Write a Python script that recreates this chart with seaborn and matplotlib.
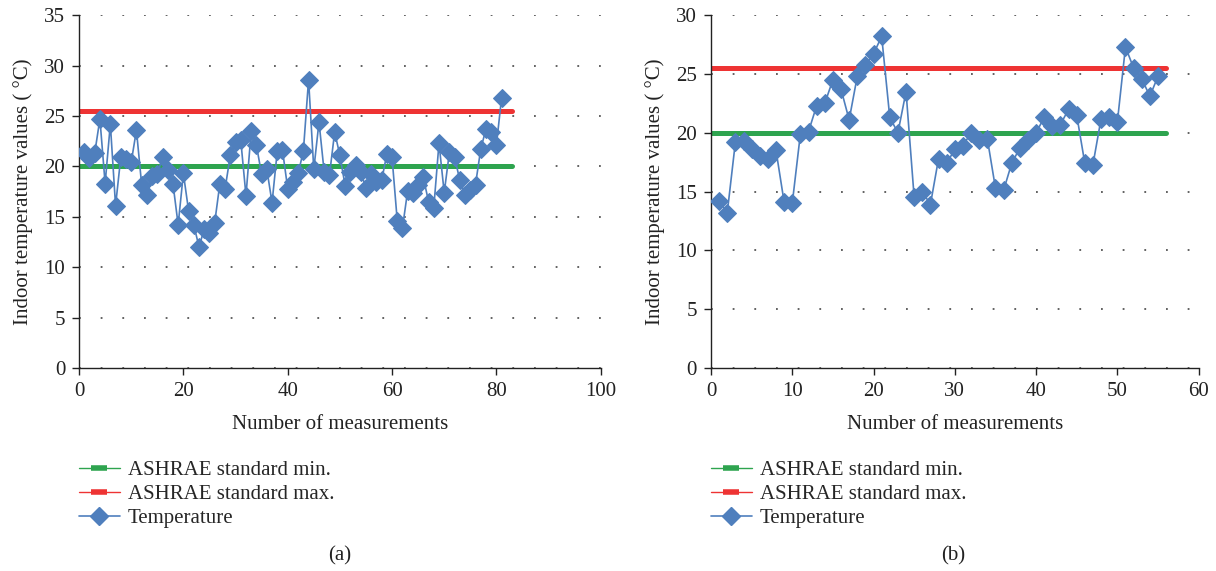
import numpy as np
import pandas as pd
import matplotlib
matplotlib.use("Agg")
import matplotlib.pyplot as plt
from matplotlib.lines import Line2D
import seaborn as sns

# panel (a)
temp_a = [21.4, 20.8, 21.3, 24.7, 18.3, 24.2, 16.1, 20.9, 20.7, 20.4,
          23.6, 18.2, 17.2, 19.0, 19.2, 20.9, 19.6, 18.3, 14.2, 19.3,
          15.6, 14.2, 12.0, 13.8, 13.4, 14.4, 18.3, 17.8, 21.1, 22.4,
          22.6, 17.1, 23.5, 22.1, 19.2, 19.7, 16.4, 21.5, 21.6, 17.8,
          18.4, 19.3, 21.5, 28.6, 19.7, 24.4, 19.4, 19.1, 23.4, 21.1,
          18.1, 19.4, 20.1, 19.4, 17.9, 19.2, 18.4, 18.6, 21.2, 20.9,
          14.6, 13.9, 17.6, 17.4, 18.2, 18.9, 16.5, 15.9, 22.3, 17.4,
          21.4, 20.9, 18.6, 17.2, 17.7, 18.2, 21.7, 23.7, 23.4, 22.1,
          26.8]
# panel (b)
temp_b = [14.2, 13.2, 19.2, 19.3, 18.6, 18.0, 17.8, 18.5, 14.1, 14.0,
          19.9, 20.1, 22.3, 22.5, 24.5, 23.7, 21.1, 24.8, 25.8, 26.7,
          28.2, 21.3, 20.0, 23.5, 14.5, 15.0, 13.9, 17.8, 17.4, 18.6,
          18.9, 20.0, 19.4, 19.5, 15.3, 15.1, 17.4, 18.7, 19.4, 20.0,
          21.3, 20.6, 20.7, 22.0, 21.5, 17.4, 17.3, 21.2, 21.3, 20.9,
          27.3, 25.5, 24.6, 23.1, 24.8]

ashrae_min = 20
ashrae_max = 25.5
line_end = [83, 56]
x_limits = [100, 60]
y_limits = [35, 30]
x_steps = [20, 10]
captions = ["(a)", "(b)"]
legend_labels = ["ASHRAE standard min.", "ASHRAE standard max.", "Temperature"]

blue = "#4f7fbd"
red = "#ee3333"
green = "#2ea44f"
ink = "#222222"
fs = 15

sns.set_theme(style="ticks")
plt.rcParams["font.family"] = ["Liberation Serif", "DejaVu Serif"]
plt.rcParams["font.size"] = fs

fig = plt.figure(figsize=(12.16, 5.71), dpi=100)
ax_a = fig.add_axes([0.065, 0.3555, 0.429, 0.618])
ax_b = fig.add_axes([0.5847, 0.3555, 0.401, 0.618])

for i, (ax, temps) in enumerate(zip([ax_a, ax_b], [temp_a, temp_b])):
    df = pd.DataFrame({"n": np.arange(1, len(temps) + 1), "t": temps})
    ref = pd.DataFrame({"n": [0, line_end[i]], "lo": [ashrae_min] * 2, "hi": [ashrae_max] * 2})

    sns.lineplot(data=ref, x="n", y="lo", ax=ax, color=green, lw=3.6, zorder=2)
    sns.lineplot(data=ref, x="n", y="hi", ax=ax, color=red, lw=3.6, zorder=2)
    sns.lineplot(data=df, x="n", y="t", ax=ax, color=blue, lw=1.2,
                 marker="D", markersize=9, markeredgecolor=blue, zorder=3)

    ax.set_xlim(0, x_limits[i])
    ax.set_ylim(0, y_limits[i])
    ax.set_xticks(np.arange(0, x_limits[i] + 1, x_steps[i]))
    ax.set_yticks(np.arange(0, y_limits[i] + 1, 5))
    ax.yaxis.grid(True, linestyle=(0, (1, 11)), color="#555555", lw=1.3)
    ax.set_axisbelow(True)
    sns.despine(ax=ax)
    for s in ["left", "bottom"]:
        ax.spines[s].set_color(ink)
        ax.spines[s].set_linewidth(1.0)
    ax.tick_params(axis="both", direction="out", length=5, width=1,
                   color=ink, labelsize=fs, labelcolor=ink, pad=5)
    ax.set_xlabel("Number of measurements", fontsize=fs, color=ink, labelpad=10)
    ax.set_ylabel("Indoor temperature values ( °C)", fontsize=fs, color=ink, labelpad=8)

    handles = [
        Line2D([], [], color=green, lw=1, marker="_", markersize=12, markeredgewidth=4),
        Line2D([], [], color=red, lw=1, marker="_", markersize=12, markeredgewidth=4),
        Line2D([], [], color=blue, lw=1.2, marker="D", markersize=9),
    ]
    ax.legend(handles, legend_labels, loc="upper left", bbox_to_anchor=(0.0, -0.262),
              frameon=False, borderpad=0, borderaxespad=0, handlelength=1.95,
              handletextpad=0.4, labelspacing=0.22, fontsize=fs, numpoints=1)

fig.text(0.2796, 0.027, captions[0], ha="center", va="center", fontsize=fs, color=ink)
fig.text(0.7837, 0.027, captions[1], ha="center", va="center", fontsize=fs, color=ink)

fig.savefig("out.png", dpi=100)
